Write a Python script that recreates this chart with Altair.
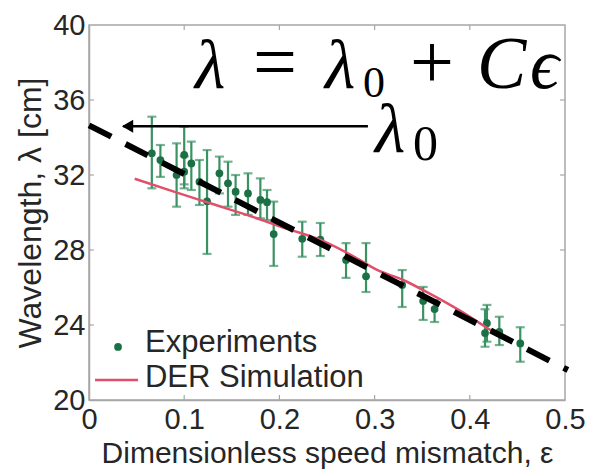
import altair as alt
import pandas as pd

# ---------------- data ----------------
exp_eps = [0.066, 0.075, 0.092, 0.100, 0.100, 0.1075, 0.116, 0.124, 0.137, 0.146,
           0.154, 0.167, 0.180, 0.187, 0.194, 0.224, 0.243, 0.270, 0.291, 0.329,
           0.351, 0.363, 0.416, 0.418, 0.431, 0.453]
exp_lam = [33.16, 32.80, 32.00, 33.07, 32.18, 32.62, 31.64, 30.60, 32.09, 31.56,
           31.11, 31.02, 30.67, 30.55, 28.85, 28.60, 28.55, 27.47, 26.60, 26.13,
           25.28, 24.85, 23.57, 24.10, 23.64, 23.02]
exp_lo = [31.29, 31.90, 30.31, 31.29, 31.50, 31.20, 30.40, 27.79, 31.02, 30.31,
          29.87, 29.87, 29.69, 29.60, 27.15, 27.64, 27.68, 26.51, 25.76, 24.96,
          24.27, 24.16, 22.84, 23.11, 22.93, 22.04]
exp_hi = [35.11, 33.60, 33.69, 34.58, 33.00, 33.78, 32.80, 33.33, 32.98, 32.71,
          32.00, 32.09, 31.82, 31.20, 30.58, 29.51, 29.44, 28.37, 28.37, 26.93,
          26.03, 25.33, 24.84, 25.07, 24.44, 23.88]

sim_eps = [0.048, 0.090, 0.130, 0.170, 0.210, 0.245, 0.280, 0.302, 0.330, 0.355,
           0.390, 0.415, 0.440]
sim_lam = [31.80, 31.10, 30.45, 29.80, 29.10, 28.50, 27.60, 26.95, 26.40, 25.75,
           24.75, 23.95, 23.15]

fit_eps = [0.0, 0.503]
fit_lam = [34.65, 21.60]

x_ticks = [0, 0.1, 0.2, 0.3, 0.4, 0.5]
y_ticks = [20, 24, 28, 32, 36, 40]

# ---------------- tables ----------------
exp = pd.DataFrame({"eps": exp_eps, "lam": exp_lam, "lo": exp_lo, "hi": exp_hi})
sim = pd.DataFrame({"eps": sim_eps, "lam": sim_lam})
fit = pd.DataFrame({"eps": fit_eps, "lam": fit_lam})

X = alt.Scale(domain=[0, 0.5], nice=False, zero=False)
Y = alt.Scale(domain=[20, 40], nice=False, zero=False)

FONT = "Liberation Sans"
MATH = "Liberation Serif"
TXT = "#262626"
GRAY = "#a6a6a6"
RED = "#e0506a"
BAR = "#3a9262"
PT = "#1b7045"

x_axis = alt.Axis(values=x_ticks, format="~g", grid=False, tickSize=0,
                  labelFont=FONT, labelFontSize=29, labelColor=TXT, labelPadding=5,
                  labelFlush=False, domainColor=GRAY, domainWidth=1.5,
                  title="Dimensionless speed mismatch, ε", titleFont=FONT,
                  titleFontSize=30, titleFontWeight="normal", titleColor=TXT,
                  titlePadding=4)
y_axis = alt.Axis(values=y_ticks, format="~g", grid=False, tickSize=0,
                  labelFont=FONT, labelFontSize=29, labelColor=TXT, labelPadding=4,
                  labelFlush=False, domainColor=GRAY, domainWidth=1.5,
                  title="Wavelength, λ [cm]", titleFont=FONT,
                  titleFontSize=32, titleFontWeight="normal", titleColor=TXT,
                  titlePadding=5)

bars = alt.Chart(exp).mark_rule(color=BAR, strokeWidth=2.2).encode(
    x=alt.X("eps:Q", scale=X, axis=x_axis),
    y=alt.Y("lo:Q", scale=Y, axis=y_axis), y2="hi:Q")
cap_lo = alt.Chart(exp).mark_tick(color=BAR, orient="horizontal", size=9, thickness=2.2).encode(
    x=alt.X("eps:Q", scale=X), y=alt.Y("lo:Q", scale=Y))
cap_hi = alt.Chart(exp).mark_tick(color=BAR, orient="horizontal", size=9, thickness=2.2).encode(
    x=alt.X("eps:Q", scale=X), y=alt.Y("hi:Q", scale=Y))
pts = alt.Chart(exp).mark_circle(color=PT, size=60, opacity=1).encode(
    x=alt.X("eps:Q", scale=X), y=alt.Y("lam:Q", scale=Y))

simline = alt.Chart(sim).mark_line(color=RED, strokeWidth=2.5, interpolate="monotone").encode(
    x=alt.X("eps:Q", scale=X), y=alt.Y("lam:Q", scale=Y))

fitline = alt.Chart(fit).mark_line(color="black", strokeWidth=6, strokeDash=[25, 16]).encode(
    x=alt.X("eps:Q", scale=X), y=alt.Y("lam:Q", scale=Y))

# arrow pointing to lambda_0
arrow_eps = [0.036, 0.293]
arrow_lam = [34.60, 34.60]
arrow = alt.Chart(pd.DataFrame({"e1": [arrow_eps[0]], "e2": [arrow_eps[1]], "lam": [arrow_lam[0]]})).mark_rule(
    color="black", strokeWidth=2.5).encode(
    x=alt.X("e1:Q", scale=X), x2="e2:Q", y=alt.Y("lam:Q", scale=Y))
head = alt.Chart(pd.DataFrame({"eps": [0.0405], "lam": [34.60]})).mark_point(
    shape="triangle-left", filled=True, color="black", size=170, opacity=1).encode(
    x=alt.X("eps:Q", scale=X), y=alt.Y("lam:Q", scale=Y))

# equation text
ital_txt = ["λ", "λ", "C", "ϵ", "λ"]
ital_eps = [0.1113, 0.2479, 0.4076, 0.4632, 0.3004]
ital_lam = [36.64, 36.64, 36.64, 36.64, 33.23]
ital_size = [70, 70, 74, 72, 70]
up_txt = ["=", "0", "+", "0"]
up_eps = [0.1723, 0.2878, 0.3372, 0.3403]
up_lam = [36.64, 36.16, 36.64, 32.80]
up_size = [78, 44, 78, 50]

ital = alt.Chart(pd.DataFrame({"t": ital_txt, "eps": ital_eps, "lam": ital_lam, "s": ital_size})).mark_text(
    font=MATH, fontStyle="italic", align="left", baseline="alphabetic", color="black").encode(
    x=alt.X("eps:Q", scale=X), y=alt.Y("lam:Q", scale=Y), text="t:N", size=alt.Size("s:Q", scale=None))
up = alt.Chart(pd.DataFrame({"t": up_txt, "eps": up_eps, "lam": up_lam, "s": up_size})).mark_text(
    font=MATH, align="left", baseline="alphabetic", color="black").encode(
    x=alt.X("eps:Q", scale=X), y=alt.Y("lam:Q", scale=Y), text="t:N", size=alt.Size("s:Q", scale=None))

# legend
leg_txt = ["Experiments", "DER Simulation"]
leg_eps = [0.0588, 0.0588]
leg_lam = [22.56, 20.69]
leg_text = alt.Chart(pd.DataFrame({"t": leg_txt, "eps": leg_eps, "lam": leg_lam})).mark_text(
    font=FONT, fontSize=31, align="left", baseline="alphabetic", color=TXT).encode(
    x=alt.X("eps:Q", scale=X), y=alt.Y("lam:Q", scale=Y), text="t:N")
leg_dot = alt.Chart(pd.DataFrame({"eps": [0.0305], "lam": [22.83]})).mark_circle(
    color=PT, size=60, opacity=1).encode(x=alt.X("eps:Q", scale=X), y=alt.Y("lam:Q", scale=Y))
leg_line = alt.Chart(pd.DataFrame({"e1": [0.0063], "e2": [0.0515], "lam": [21.07]})).mark_rule(
    color=RED, strokeWidth=2.5).encode(x=alt.X("e1:Q", scale=X), x2="e2:Q", y=alt.Y("lam:Q", scale=Y))

# inward ticks (box style)
inner_x = x_ticks[1:-1]
inner_y = y_ticks[1:-1]
tx = pd.DataFrame({"eps": inner_x + inner_x,
                   "a": [20.0] * len(inner_x) + [40.0] * len(inner_x),
                   "b": [20.27] * len(inner_x) + [39.73] * len(inner_x)})
ty = pd.DataFrame({"lam": inner_y + inner_y,
                   "a": [0.0] * len(inner_y) + [0.5] * len(inner_y),
                   "b": [0.0052] * len(inner_y) + [0.4948] * len(inner_y)})
ticks_x = alt.Chart(tx).mark_rule(color=GRAY, strokeWidth=1.2).encode(
    x=alt.X("eps:Q", scale=X), y=alt.Y("a:Q", scale=Y), y2="b:Q")
ticks_y = alt.Chart(ty).mark_rule(color=GRAY, strokeWidth=1.2).encode(
    y=alt.Y("lam:Q", scale=Y), x=alt.X("a:Q", scale=X), x2="b:Q")

chart = alt.layer(bars, ticks_x, ticks_y, cap_lo, cap_hi, pts, simline, fitline, arrow, head,
                  ital, up, leg_text, leg_dot, leg_line).properties(
    width=476, height=375,
    autosize=alt.AutoSizeParams(type="none"),
    padding={"left": 89, "top": 25, "right": 41, "bottom": 69},
    background="white",
).configure_view(stroke=GRAY, strokeWidth=1.5)

chart.save("out.html", embed_options={"renderer": "svg", "actions": False})
